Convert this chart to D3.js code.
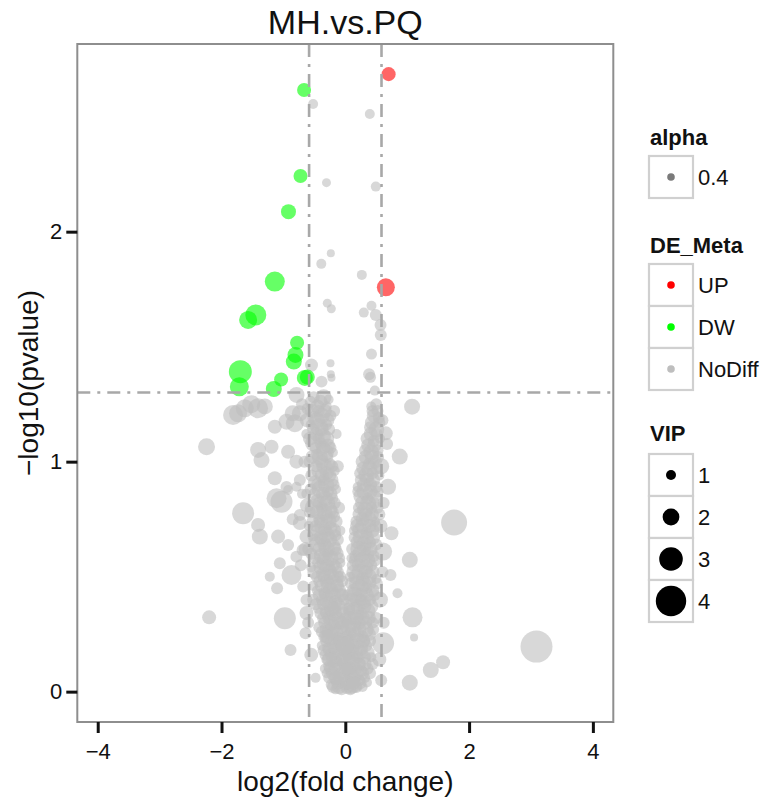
<!DOCTYPE html>
<html>
<head>
<meta charset="utf-8">
<script src="https://cdn.jsdelivr.net/npm/d3@7"></script>
<style>
  body { margin: 0; background: #fff; }
  text { font-family: "Liberation Sans", Arial, sans-serif; }
</style>
</head>
<body>
<div id="chart"></div>
<script>
// [log2FC, -log10(p), VIP]
const upPoints = [
  [0.70, 2.685, 1.59], [0.655, 1.758, 2.18]
];

const dwPoints = [
  [-0.666, 2.616, 1.59], [-0.724, 2.242, 1.59], [-0.918, 2.087, 1.74],
  [-1.139, 1.783, 2.47], [-1.446, 1.638, 2.62], [-1.570, 1.616, 2.18],
  [-0.779, 1.517, 1.59], [-0.805, 1.464, 1.88], [-0.832, 1.435, 1.88],
  [-1.696, 1.391, 2.91], [-1.712, 1.326, 2.32], [-1.037, 1.357, 1.59],
  [-1.155, 1.316, 1.88], [-0.654, 1.364, 1.88], [-0.614, 1.368, 1.74]
];

const noDiffPoints = [
  // upper, between the cut lines
  [-0.52, 2.555, 1.0], [0.396, 2.512, 1.0], [-0.304, 2.213, 0.85], [0.493, 2.196, 1.0],
  [-0.234, 1.906, 0.71], [-0.388, 1.86, 1.0], [0.267, 1.812, 1.0], [-0.291, 1.689, 0.85],
  [-0.226, 1.665, 0.85], [0.423, 1.678, 1.0], [0.299, 1.648, 1.0], [0.493, 1.638, 1.29],
  [0.569, 1.594, 1.29], [0.573, 1.551, 1.29], [0.423, 1.468, 1.15], [-0.239, 1.428, 0.71],
  [-0.234, 1.38, 0.71], [-0.223, 1.365, 0.71], [0.384, 1.38, 1.29], [0.407, 1.367, 1.15],
  [-0.546, 1.42, 1.44], [-0.384, 1.348, 1.29], [0.477, 1.309, 1.0],
  // left of the core
  [-1.813, 1.203, 2.47], [-1.732, 1.21, 2.18], [-1.624, 1.232, 2.18], [-1.409, 1.232, 2.47],
  [-1.52, 1.25, 2.18], [-1.30, 1.24, 1.88], [-2.242, 1.065, 2.03], [-1.139, 1.152, 1.59],
  [-1.409, 1.051, 1.88], [-1.192, 1.065, 1.59], [-1.354, 1.007, 1.88], [-0.924, 1.043, 1.59],
  [-1.139, 0.928, 1.59], [-1.031, 0.826, 2.76], [-1.111, 0.841, 2.47], [-1.651, 0.776, 2.76],
  [-1.409, 0.725, 1.59], [-1.381, 0.674, 1.88], [-1.086, 0.674, 1.59], [-0.735, 0.768, 1.29],
  [-0.924, 0.877, 1.0], [-0.788, 0.891, 1.0], [-0.816, 1.167, 2.18], [-0.735, 1.21, 1.88],
  [-0.788, 1.29, 1.88], [-0.924, 0.638, 1.29], [-0.869, 0.507, 2.47], [-1.058, 0.558, 1.29],
  [-1.22, 0.5, 1.0], [-1.102, 0.45, 1.29], [-0.977, 0.319, 2.76], [-2.2, 0.323, 1.59],
  [-0.885, 0.181, 1.29], [-0.643, 0.254, 1.29], [-0.627, 0.399, 1.29], [-0.95, 1.174, 1.88],
  [-0.85, 1.21, 1.88], [-0.79, 1.0, 1.59], [-0.735, 0.92, 1.29], [-0.95, 0.89, 1.29],
  [-0.85, 0.75, 1.29], [-0.735, 0.733, 1.59], [-0.627, 0.674, 1.59], [-0.69, 0.616, 1.29],
  [-0.79, 0.587, 1.29], [-0.68, 0.457, 1.29], [-0.627, 0.342, 1.59],
  // right of the core
  [1.079, 1.239, 1.88], [0.880, 1.022, 1.88], [1.758, 0.735, 3.35], [1.042, 0.573, 1.88],
  [0.730, 0.507, 1.29], [0.843, 0.428, 1.0], [1.086, 0.323, 2.47], [1.111, 0.235, 0.71],
  [3.089, 0.196, 4.24], [1.58, 0.128, 1.59], [1.381, 0.094, 1.88], [1.042, 0.039, 1.88],
  [0.611, 0.21, 2.76], [0.654, 1.123, 1.59], [0.675, 1.077, 1.29], [0.746, 0.689, 1.59],
  [0.691, 0.891, 1.88], [0.611, 0.609, 2.18],
  // core, left arm
  [-0.51, 1.28, 1.29], [-0.35, 1.28, 1.88], [-0.27, 1.27, 1.0],
  [-0.45, 1.24, 1.59], [-0.61, 1.23, 1.29], [-0.30, 1.24, 1.0],
  [-0.38, 1.20, 1.88], [-0.50, 1.19, 1.59], [-0.24, 1.20, 1.29],
  [-0.56, 1.16, 1.0], [-0.42, 1.15, 2.18], [-0.31, 1.16, 1.29],
  [-0.47, 1.12, 1.59], [-0.36, 1.11, 1.88], [-0.63, 1.12, 1.0],
  [-0.40, 1.08, 1.29], [-0.28, 1.07, 1.59], [-0.52, 1.08, 1.88],
  [-0.33, 1.04, 2.18], [-0.46, 1.03, 1.29], [-0.20, 1.04, 1.0],
  [-0.38, 1.00, 1.59], [-0.25, 0.99, 1.29], [-0.58, 1.00, 1.29],
  [-0.42, 0.96, 1.88], [-0.30, 0.95, 1.59], [-0.17, 0.96, 1.0],
  [-0.35, 0.92, 1.29], [-0.49, 0.91, 1.59], [-0.24, 0.92, 1.88],
  [-0.40, 0.88, 2.18], [-0.28, 0.87, 1.29], [-0.56, 0.88, 1.29], [-0.15, 0.88, 1.0],
  [-0.33, 0.84, 1.88], [-0.45, 0.83, 1.59], [-0.21, 0.84, 1.29],
  [-0.38, 0.80, 1.29], [-0.26, 0.79, 1.88], [-0.51, 0.80, 2.18], [-0.62, 0.81, 1.59],
  [-0.30, 0.76, 1.59], [-0.42, 0.75, 1.29], [-0.18, 0.76, 1.29],
  [-0.36, 0.72, 2.18], [-0.24, 0.71, 1.59], [-0.48, 0.72, 1.29], [-0.59, 0.72, 1.0],
  [-0.30, 0.68, 1.88], [-0.40, 0.67, 1.59], [-0.16, 0.68, 1.29], [-0.52, 0.68, 1.29],
  [-0.34, 0.64, 1.59], [-0.22, 0.63, 2.18], [-0.46, 0.64, 1.88],
  [-0.28, 0.60, 1.29], [-0.38, 0.59, 1.88], [-0.14, 0.60, 1.59], [-0.55, 0.60, 1.29],
  [-0.32, 0.56, 2.18], [-0.20, 0.55, 1.59], [-0.44, 0.56, 1.29], [-0.08, 0.56, 1.0],
  [-0.26, 0.52, 1.88], [-0.36, 0.51, 1.59], [-0.12, 0.52, 1.29], [-0.50, 0.52, 1.59],
  [-0.30, 0.48, 1.59], [-0.18, 0.47, 2.18], [-0.42, 0.48, 1.29], [-0.05, 0.48, 1.29],
  [-0.24, 0.44, 1.88], [-0.34, 0.43, 1.29], [-0.10, 0.44, 1.59], [-0.46, 0.44, 1.0],
  [-0.28, 0.40, 2.18], [-0.16, 0.39, 1.59], [-0.38, 0.40, 1.29], [-0.02, 0.40, 1.29], [-0.52, 0.40, 1.29],
  [-0.22, 0.36, 1.88], [-0.32, 0.35, 1.29], [-0.08, 0.36, 1.88], [-0.44, 0.36, 1.0],
  [-0.26, 0.32, 1.59], [-0.14, 0.31, 2.18], [-0.36, 0.32, 1.29], [0.00, 0.32, 1.29],
  [-0.20, 0.28, 1.88], [-0.30, 0.27, 1.59], [-0.06, 0.28, 1.59], [-0.42, 0.28, 1.29],
  [-0.24, 0.24, 2.18], [-0.12, 0.23, 1.59], [-0.34, 0.24, 1.29], [0.02, 0.24, 1.29],
  [-0.18, 0.20, 1.88], [-0.28, 0.19, 1.29], [-0.04, 0.20, 1.88], [-0.38, 0.20, 1.0],
  [-0.22, 0.16, 1.59], [-0.10, 0.15, 2.18], [-0.32, 0.16, 1.29], [0.04, 0.16, 1.29],
  [-0.16, 0.12, 1.88], [-0.26, 0.11, 1.29], [-0.02, 0.12, 1.59],
  [-0.20, 0.08, 1.59], [-0.08, 0.07, 1.88], [-0.30, 0.08, 1.0], [0.06, 0.08, 1.29],
  [-0.12, 0.04, 1.59], [-0.22, 0.03, 1.29], [0.00, 0.04, 1.88],
  [-0.06, 0.01, 1.29], [-0.16, 0.01, 1.0], [0.08, 0.01, 1.29],
  [-0.40, 1.26, 1.59], [-0.56, 1.26, 1.29], [-0.33, 1.22, 1.59], [-0.43, 1.22, 1.29], [-0.54, 1.22, 1.59],
  [-0.29, 1.18, 1.59], [-0.46, 1.18, 1.88], [-0.38, 1.14, 1.59], [-0.52, 1.14, 1.29], [-0.26, 1.14, 1.29],
  [-0.31, 1.10, 1.88], [-0.43, 1.10, 1.29], [-0.57, 1.10, 1.59], [-0.36, 1.06, 1.59], [-0.48, 1.06, 1.29],
  [-0.24, 1.06, 1.29], [-0.41, 1.02, 1.88], [-0.29, 1.02, 1.29], [-0.53, 1.02, 1.59], [-0.34, 0.98, 1.88],
  [-0.47, 0.98, 1.29], [-0.21, 0.98, 1.29], [-0.38, 0.94, 1.59], [-0.26, 0.94, 1.59], [-0.55, 0.94, 1.29],
  [-0.31, 0.90, 1.88], [-0.44, 0.90, 1.59], [-0.19, 0.90, 1.29], [-0.36, 0.86, 1.59], [-0.24, 0.86, 1.59],
  [-0.50, 0.86, 1.29], [-0.63, 0.86, 1.0], [-0.29, 0.82, 1.88], [-0.41, 0.82, 1.59], [-0.17, 0.82, 1.29],
  [-0.34, 0.78, 1.88], [-0.22, 0.78, 1.59], [-0.46, 0.78, 1.59], [-0.57, 0.78, 1.29], [-0.27, 0.74, 1.88],
  [-0.39, 0.74, 1.59], [-0.14, 0.74, 1.29], [-0.53, 0.74, 1.29], [-0.33, 0.70, 1.59], [-0.20, 0.70, 1.88],
  [-0.45, 0.70, 1.59], [-0.26, 0.66, 1.88], [-0.37, 0.66, 1.59], [-0.12, 0.66, 1.29], [-0.50, 0.66, 1.29],
  [-0.30, 0.62, 1.88], [-0.17, 0.62, 1.59], [-0.42, 0.62, 1.59], [-0.60, 0.62, 1.29], [-0.24, 0.58, 1.88],
  [-0.35, 0.58, 1.59], [-0.10, 0.58, 1.29], [-0.49, 0.58, 1.29], [-0.29, 0.54, 1.88], [-0.16, 0.54, 1.59],
  [-0.40, 0.54, 1.59], [-0.55, 0.54, 1.0], [-0.22, 0.50, 1.88], [-0.33, 0.50, 1.59], [-0.08, 0.50, 1.29],
  [-0.46, 0.50, 1.29], [-0.27, 0.46, 1.88], [-0.13, 0.46, 1.59], [-0.38, 0.46, 1.59], [-0.52, 0.46, 1.0],
  [-0.20, 0.42, 1.88], [-0.31, 0.42, 1.59], [-0.05, 0.42, 1.29], [-0.43, 0.42, 1.29], [-0.25, 0.38, 1.88],
  [-0.12, 0.38, 1.59], [-0.36, 0.38, 1.29], [-0.48, 0.38, 1.29], [-0.18, 0.34, 1.88], [-0.29, 0.34, 1.59],
  [-0.04, 0.34, 1.59], [-0.40, 0.34, 1.29], [-0.22, 0.30, 1.88], [-0.10, 0.30, 1.59], [-0.34, 0.30, 1.29],
  [0.03, 0.30, 1.29], [-0.16, 0.26, 1.88], [-0.27, 0.26, 1.59], [-0.03, 0.26, 1.59], [-0.38, 0.26, 1.29],
  [-0.20, 0.22, 1.88], [-0.08, 0.22, 1.88], [-0.31, 0.22, 1.29], [0.05, 0.22, 1.29], [-0.14, 0.18, 1.88],
  [-0.25, 0.18, 1.59], [-0.01, 0.18, 1.59], [-0.35, 0.18, 1.29], [-0.18, 0.14, 1.88], [-0.06, 0.14, 1.59],
  [-0.29, 0.14, 1.29], [0.07, 0.14, 1.29], [-0.12, 0.10, 1.88], [-0.23, 0.10, 1.59], [0.01, 0.10, 1.59],
  [-0.33, 0.10, 1.0], [-0.16, 0.06, 1.59], [-0.04, 0.06, 1.88], [-0.26, 0.06, 1.29], [-0.10, 0.02, 1.59],
  [-0.20, 0.02, 1.29], [0.03, 0.02, 1.59],
  [-0.18, 1.22, 1.29], [-0.14, 1.12, 1.0], [-0.12, 0.98, 1.29], [-0.10, 0.80, 1.29], [-0.08, 0.70, 1.0],
  // core, right arm
  [0.50, 1.25, 1.29], [0.42, 1.24, 1.0],
  [0.46, 1.20, 1.59], [0.54, 1.19, 1.29], [0.60, 1.18, 1.29],
  [0.40, 1.15, 1.29], [0.50, 1.14, 1.88],
  [0.36, 1.10, 1.59], [0.46, 1.09, 1.29], [0.56, 1.10, 1.0],
  [0.32, 1.05, 1.29], [0.42, 1.04, 1.88], [0.52, 1.05, 1.29],
  [0.28, 1.00, 1.59], [0.38, 0.99, 1.29], [0.48, 1.00, 1.59], [0.58, 0.98, 1.88],
  [0.24, 0.95, 1.29], [0.34, 0.94, 1.88], [0.44, 0.95, 1.29], [0.55, 0.94, 1.0],
  [0.30, 0.90, 1.59], [0.20, 0.89, 1.0], [0.40, 0.90, 1.59], [0.50, 0.89, 1.29],
  [0.26, 0.85, 1.88], [0.36, 0.84, 1.29], [0.46, 0.85, 1.59],
  [0.22, 0.80, 1.29], [0.32, 0.79, 1.88], [0.42, 0.80, 1.29], [0.52, 0.80, 1.29], [0.62, 0.82, 1.29],
  [0.28, 0.75, 1.59], [0.18, 0.74, 1.29], [0.38, 0.75, 1.88], [0.48, 0.74, 1.0],
  [0.24, 0.70, 1.88], [0.34, 0.69, 1.29], [0.44, 0.70, 1.59], [0.14, 0.70, 1.0], [0.57, 0.72, 1.59],
  [0.20, 0.65, 1.59], [0.30, 0.64, 1.88], [0.40, 0.65, 1.29], [0.50, 0.64, 1.29],
  [0.26, 0.60, 2.18], [0.16, 0.59, 1.29], [0.36, 0.60, 1.59], [0.46, 0.59, 1.29],
  [0.22, 0.55, 1.59], [0.32, 0.54, 1.88], [0.12, 0.55, 1.29], [0.42, 0.55, 1.29],
  [0.18, 0.50, 1.88], [0.28, 0.49, 1.59], [0.38, 0.50, 1.88], [0.08, 0.50, 1.0], [0.50, 0.49, 1.0], [0.60, 0.52, 1.29],
  [0.24, 0.45, 2.18], [0.14, 0.44, 1.59], [0.34, 0.45, 1.29], [0.44, 0.44, 1.59],
  [0.20, 0.40, 1.88], [0.30, 0.39, 1.59], [0.10, 0.40, 1.59], [0.40, 0.40, 1.29], [0.56, 0.40, 1.88],
  [0.16, 0.35, 2.18], [0.26, 0.34, 1.29], [0.36, 0.35, 1.88], [0.06, 0.35, 1.29],
  [0.22, 0.30, 1.59], [0.12, 0.29, 1.88], [0.32, 0.30, 1.59], [0.44, 0.30, 1.29], [0.62, 0.30, 1.29],
  [0.18, 0.25, 1.88], [0.28, 0.24, 1.29], [0.08, 0.25, 1.59], [0.38, 0.25, 1.59],
  [0.14, 0.20, 1.59], [0.24, 0.19, 1.88], [0.34, 0.20, 1.29], [0.04, 0.20, 1.0],
  [0.20, 0.15, 1.29], [0.10, 0.14, 1.88], [0.30, 0.15, 1.59], [0.42, 0.15, 1.0], [0.55, 0.14, 1.59],
  [0.16, 0.10, 1.59], [0.26, 0.09, 1.29], [0.06, 0.10, 1.59], [0.36, 0.10, 1.29],
  [0.12, 0.06, 1.88], [0.22, 0.05, 1.29], [0.32, 0.06, 1.0], [0.58, 0.05, 1.29],
  [0.18, 0.02, 1.29], [0.10, 0.02, 1.59], [0.28, 0.02, 1.0],
  [0.44, 1.22, 1.29], [0.52, 1.22, 1.29], [0.43, 1.17, 1.59], [0.55, 1.17, 1.29], [0.41, 1.12, 1.59],
  [0.51, 1.12, 1.29], [0.37, 1.07, 1.59], [0.47, 1.07, 1.59], [0.33, 1.02, 1.59], [0.43, 1.02, 1.59],
  [0.53, 1.02, 1.29], [0.29, 0.97, 1.59], [0.39, 0.97, 1.88], [0.50, 0.97, 1.29], [0.25, 0.92, 1.29],
  [0.35, 0.92, 1.59], [0.45, 0.92, 1.59], [0.21, 0.87, 1.29], [0.31, 0.87, 1.88], [0.41, 0.87, 1.59],
  [0.52, 0.87, 1.29], [0.27, 0.82, 1.59], [0.37, 0.82, 1.88], [0.47, 0.82, 1.29], [0.23, 0.77, 1.59],
  [0.33, 0.77, 1.59], [0.43, 0.77, 1.59], [0.55, 0.77, 1.29], [0.19, 0.72, 1.59], [0.29, 0.72, 1.88],
  [0.39, 0.72, 1.59], [0.49, 0.72, 1.29], [0.15, 0.67, 1.29], [0.25, 0.67, 1.88], [0.35, 0.67, 1.59],
  [0.45, 0.67, 1.59], [0.21, 0.62, 1.88], [0.31, 0.62, 1.59], [0.41, 0.62, 1.59], [0.11, 0.62, 1.29],
  [0.17, 0.57, 1.59], [0.27, 0.57, 1.88], [0.37, 0.57, 1.59], [0.48, 0.57, 1.29], [0.13, 0.52, 1.59],
  [0.23, 0.52, 1.88], [0.33, 0.52, 1.59], [0.44, 0.52, 1.59], [0.09, 0.47, 1.29], [0.19, 0.47, 1.88],
  [0.29, 0.47, 1.88], [0.39, 0.47, 1.59], [0.51, 0.47, 1.29], [0.05, 0.42, 1.29], [0.15, 0.42, 1.88],
  [0.25, 0.42, 1.59], [0.35, 0.42, 1.59], [0.47, 0.42, 1.29], [0.11, 0.37, 1.88], [0.21, 0.37, 1.59],
  [0.31, 0.37, 1.59], [0.42, 0.37, 1.59], [0.07, 0.32, 1.59], [0.17, 0.32, 1.88], [0.27, 0.32, 1.88],
  [0.38, 0.32, 1.59], [0.50, 0.32, 1.29], [0.13, 0.27, 1.88], [0.23, 0.27, 1.59], [0.33, 0.27, 1.88],
  [0.45, 0.27, 1.29], [0.09, 0.22, 1.59], [0.19, 0.22, 1.88], [0.29, 0.22, 1.59], [0.40, 0.22, 1.29],
  [0.05, 0.17, 1.59], [0.15, 0.17, 1.88], [0.25, 0.17, 1.59], [0.36, 0.17, 1.59], [0.11, 0.12, 1.88],
  [0.21, 0.12, 1.59], [0.31, 0.12, 1.59], [0.44, 0.12, 1.29], [0.07, 0.08, 1.59], [0.17, 0.08, 1.88],
  [0.27, 0.08, 1.59], [0.40, 0.08, 1.29], [0.03, 0.04, 1.59], [0.13, 0.04, 1.59], [0.23, 0.04, 1.59],
  [0.35, 0.04, 1.0],
  // core, bottom centre and edges
  [-0.05, 0.30, 1.59], [0.05, 0.28, 1.88], [-0.10, 0.22, 1.29], [0.10, 0.18, 1.59],
  [-0.02, 0.14, 1.88], [0.02, 0.10, 1.29], [-0.14, 0.06, 1.59], [0.14, 0.03, 1.88],
  [0.24, 0.12, 1.29], [-0.26, 0.14, 1.59], [0.30, 0.22, 1.29], [-0.30, 0.24, 1.59],
  [0.00, 0.20, 2.18], [0.06, 0.36, 1.29], [-0.06, 0.42, 1.59], [0.18, 0.32, 1.29],
  [-0.18, 0.36, 1.59], [0.26, 0.40, 1.29], [-0.12, 0.50, 1.29], [0.10, 0.58, 1.0],
  [-0.66, 1.00, 1.29], [-0.70, 0.86, 1.0], [-0.64, 0.62, 1.59], [-0.72, 0.55, 1.29],
  [-0.60, 0.30, 1.29], [-0.55, 0.16, 1.59], [-0.48, 0.06, 1.0], [-0.62, 1.18, 1.59],
  [-0.70, 1.25, 1.29]
];

const xTicks = [-4, -2, 0, 2, 4];
const yTicks = [0, 1, 2];
const fcCut = [-0.585, 0.585];
const pCut = [1.301];

const groupNames = ["UP", "DW", "NoDiff"];
const groupColors = ["#ff0000", "#00ff00", "#bebebe"];
const vipLevels = [1, 2, 3, 4];
const alphaLevels = [0.4];

const width = 773;
const height = 801;
const panel = { left: 77.3, right: 613.3, top: 44, bottom: 722 };

const svg = d3.select("#chart")
  .append("svg")
  .attr("width", width)
  .attr("height", height)
  .style("background-color", "white");

const x = d3.scaleLinear()
  .domain([-4.33, 4.33])
  .range([panel.left, panel.right]);

const y = d3.scaleLinear()
  .domain([-0.132, 2.816])
  .range([panel.bottom, panel.top]);

const r = d3.scaleLinear()
  .domain([1, 4])
  .range([5, 15.2]);

const color = d3.scaleOrdinal()
  .domain(groupNames)
  .range(groupColors);

svg.append("clipPath")
  .attr("id", "clip")
  .append("rect")
  .attr("x", panel.left)
  .attr("y", panel.top)
  .attr("width", panel.right - panel.left)
  .attr("height", panel.bottom - panel.top);

// Título
svg.append("text")
  .attr("x", (panel.left + panel.right) / 2)
  .attr("y", 34)
  .attr("text-anchor", "middle")
  .style("font-size", "34px")
  .style("fill", "#111")
  .text("MH.vs.PQ");

// Pontos
const plot = svg.append("g").attr("clip-path", "url(#clip)");

const allPoints = [
  ...noDiffPoints.map(d => ({ fc: d[0], p: d[1], vip: d[2], g: "NoDiff" })),
  ...dwPoints.map(d => ({ fc: d[0], p: d[1], vip: d[2], g: "DW" })),
  ...upPoints.map(d => ({ fc: d[0], p: d[1], vip: d[2], g: "UP" }))
];

plot.selectAll(".pt")
  .data(allPoints)
  .enter()
  .append("circle")
  .attr("class", "pt")
  .attr("cx", d => x(d.fc))
  .attr("cy", d => y(d.p))
  .attr("r", d => r(d.vip))
  .attr("fill", d => color(d.g))
  .attr("fill-opacity", 0.6);

// Linhas de corte
const cutStyle = sel => sel
  .attr("stroke", "#a8a8a8")
  .attr("stroke-width", 2.6)
  .attr("stroke-dasharray", "13,7,3,7");

plot.selectAll(".vcut")
  .data(fcCut)
  .enter()
  .append("line")
  .attr("x1", d => x(d))
  .attr("x2", d => x(d))
  .attr("y1", panel.top)
  .attr("y2", panel.bottom)
  .call(cutStyle);

plot.selectAll(".hcut")
  .data(pCut)
  .enter()
  .append("line")
  .attr("x1", panel.left)
  .attr("x2", panel.right)
  .attr("y1", d => y(d))
  .attr("y2", d => y(d))
  .call(cutStyle);

// Borda do painel
svg.append("rect")
  .attr("x", panel.left)
  .attr("y", panel.top)
  .attr("width", panel.right - panel.left)
  .attr("height", panel.bottom - panel.top)
  .attr("fill", "none")
  .attr("stroke", "#8e8e8e")
  .attr("stroke-width", 2);

// Eixos
const xAxis = svg.append("g")
  .attr("transform", `translate(0,${panel.bottom})`)
  .call(d3.axisBottom(x).tickValues(xTicks).tickSize(11).tickPadding(10).tickFormat(d3.format("d")));

const yAxis = svg.append("g")
  .attr("transform", `translate(${panel.left},0)`)
  .call(d3.axisLeft(y).tickValues(yTicks).tickSize(11).tickPadding(4).tickFormat(d3.format("d")));

[xAxis, yAxis].forEach(a => {
  a.select(".domain").remove();
  a.selectAll(".tick line").attr("stroke", "#111").attr("stroke-width", 3);
  a.selectAll("text")
    .style("font-size", "22px")
    .style("font-family", "'Liberation Sans', Arial, sans-serif")
    .attr("fill", "#111");
});

svg.append("text")
  .attr("x", (panel.left + panel.right) / 2)
  .attr("y", 791)
  .attr("text-anchor", "middle")
  .style("font-size", "28px")
  .style("fill", "#111")
  .text("log2(fold change)");

svg.append("text")
  .attr("transform", "rotate(-90)")
  .attr("x", -(panel.top + panel.bottom) / 2)
  .attr("y", 38)
  .attr("text-anchor", "middle")
  .style("font-size", "28px")
  .style("fill", "#111")
  .text("\u2212log10(pvalue)");

// Legenda
const legend = svg.append("g");
const keyX = 649, keyW = 44, keyH = 42, labelX = 698;

function legendTitle(yPos, label) {
  legend.append("text")
    .attr("x", 650)
    .attr("y", yPos)
    .style("font-size", "22px")
    .style("font-weight", "bold")
    .style("fill", "#111")
    .text(label);
}

function legendKeys(top, items, drawDot) {
  const g = legend.append("g");
  const rows = g.selectAll("g")
    .data(items)
    .enter()
    .append("g")
    .attr("transform", (d, i) => `translate(0,${top + i * keyH})`);
  rows.append("rect")
    .attr("x", keyX)
    .attr("y", 0)
    .attr("width", keyW)
    .attr("height", keyH)
    .attr("fill", "white")
    .attr("stroke", "#d0d0d0")
    .attr("stroke-width", 2.2);
  rows.call(drawDot);
  rows.append("text")
    .attr("x", labelX)
    .attr("y", keyH / 2)
    .attr("dy", "0.36em")
    .style("font-size", "22px")
    .style("fill", "#111")
    .text(d => d.label);
}

legendTitle(145, "alpha");
legendKeys(156, alphaLevels.map(a => ({ label: String(a) })), rows => rows.append("circle")
  .attr("cx", keyX + keyW / 2)
  .attr("cy", keyH / 2)
  .attr("r", 3.8)
  .attr("fill", "#7a7a7a"));

legendTitle(253, "DE_Meta");
legendKeys(264, groupNames.map(g => ({ label: g })), rows => rows.append("circle")
  .attr("cx", keyX + keyW / 2)
  .attr("cy", keyH / 2)
  .attr("r", 3.8)
  .attr("fill", d => color(d.label)));

legendTitle(441, "VIP");
legendKeys(454, vipLevels.map(v => ({ label: String(v), v })), rows => rows.append("circle")
  .attr("cx", keyX + keyW / 2)
  .attr("cy", keyH / 2)
  .attr("r", d => r(d.v))
  .attr("fill", "black"));
</script>
</body>
</html>
